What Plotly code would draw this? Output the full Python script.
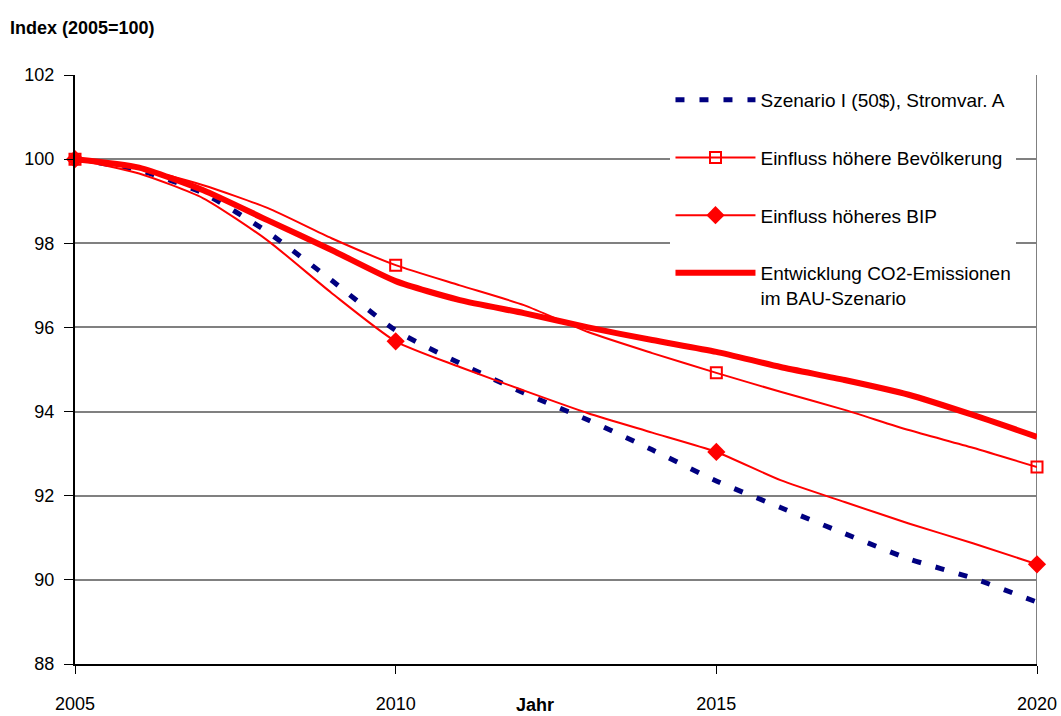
import plotly.graph_objects as go

years = list(range(2005, 2021))
szenario_I = [100, 99.74, 99.19, 98.27, 97.12, 95.93, 95.15, 94.44, 93.8, 93.09, 92.35, 91.72, 91.1, 90.5, 90.04, 89.47]
bip = [100, 99.66, 99.07, 98.07, 96.82, 95.67, 95.06, 94.5, 93.96, 93.5, 93.04, 92.37, 91.85, 91.34, 90.87, 90.37]
bevoelkerung = [100, 99.78, 99.38, 98.84, 98.12, 97.48, 97.0, 96.53, 95.89, 95.39, 94.92, 94.47, 94.04, 93.56, 93.14, 92.68]
bau = [100, 99.8, 99.26, 98.55, 97.84, 97.1, 96.65, 96.34, 96.0, 95.7, 95.42, 95.06, 94.75, 94.4, 93.92, 93.4]
marker_years = [2005, 2010, 2015, 2020]
x_ticks = [2005, 2010, 2015, 2020]
y_ticks = [88, 90, 92, 94, 96, 98, 100, 102]

FONT = "Liberation Sans, Arial, sans-serif"
RED = "#FF0000"
NAVY = "#000080"
SPLINE = dict(shape="spline", smoothing=0.6)

def at_marker_years(values):
    return [v for y, v in zip(years, values) if y in marker_years]

square_marker = dict(symbol="square-open", size=11, color=RED, line=dict(width=2, color=RED))
diamond_marker = dict(symbol="diamond", size=14, color=RED)

fig = go.Figure()
# Szenario I
fig.add_trace(go.Scatter(
    x=years, y=szenario_I, mode="lines", name="Szenario I (50$), Stromvar. A",
    line=dict(color=NAVY, width=5, dash="9px,15px", **SPLINE), legendgroup="a"))
# Bevoelkerung
fig.add_trace(go.Scatter(
    x=years, y=bevoelkerung, mode="lines", showlegend=False,
    line=dict(color=RED, width=2, **SPLINE), legendgroup="b", hoverinfo="skip"))
fig.add_trace(go.Scatter(
    x=marker_years, y=at_marker_years(bevoelkerung), mode="markers", showlegend=False,
    marker=square_marker, legendgroup="b", cliponaxis=False))
fig.add_trace(go.Scatter(
    x=[None], y=[None], mode="lines+markers", name="Einfluss höhere Bevölkerung",
    line=dict(color=RED, width=2), marker=square_marker, legendgroup="b"))
# BIP
fig.add_trace(go.Scatter(
    x=years, y=bip, mode="lines", showlegend=False,
    line=dict(color=RED, width=2, **SPLINE), legendgroup="c", hoverinfo="skip"))
fig.add_trace(go.Scatter(
    x=marker_years, y=at_marker_years(bip), mode="markers", showlegend=False,
    marker=diamond_marker, legendgroup="c", cliponaxis=False))
fig.add_trace(go.Scatter(
    x=[None], y=[None], mode="lines+markers", name="Einfluss höheres BIP",
    line=dict(color=RED, width=2), marker=diamond_marker, legendgroup="c"))
# BAU
fig.add_trace(go.Scatter(
    x=years, y=bau, mode="lines", name="Entwicklung CO2-Emissionen<br>im BAU-Szenario",
    line=dict(color=RED, width=6, **SPLINE), legendgroup="d"))

fig.update_layout(
    width=1061, height=716,
    margin=dict(l=75, r=24, t=75, b=52),
    paper_bgcolor="white", plot_bgcolor="white",
    font=dict(family=FONT, size=18, color="black"),
    title=dict(text="<b>Index (2005=100)</b>", x=0.0094, xref="container", xanchor="left",
               y=1 - 28 / 716, yref="container", yanchor="middle",
               font=dict(family=FONT, size=18, color="black")),
    showlegend=True,
    legend=dict(x=0.619, xanchor="left", y=0.99, yanchor="top",
                bgcolor="white", borderwidth=0, itemwidth=80,
                tracegroupgap=30, valign="top",
                font=dict(family=FONT, size=19, color="black")),
    xaxis=dict(range=[2005, 2020], tickvals=x_ticks, ticktext=[str(t) for t in x_ticks],
               showgrid=False, zeroline=False, showline=True, linecolor="black", linewidth=2,
               ticks="outside", ticklen=8, tickcolor="black", tickwidth=1,
               ticklabelstandoff=14, automargin=False),
    yaxis=dict(range=[88, 102], tickvals=y_ticks, showgrid=True, gridcolor="#808080", gridwidth=2,
               zeroline=False, showline=True, linecolor="black", linewidth=2,
               ticks="outside", ticklen=9, tickcolor="black", tickwidth=1,
               ticklabelstandoff=6, automargin=False),
    annotations=[dict(text="<b>Jahr</b>", x=0.478, xref="paper", y=-0.0696, yref="paper",
                      xanchor="center", yanchor="middle", showarrow=False,
                      font=dict(family=FONT, size=18, color="black"))],
)
fig.add_shape(type="line", xref="x", yref="paper", x0=2020, x1=2020, y0=0, y1=1,
              line=dict(color="#808080", width=2), layer="below")

fig.write_html("out.html", config={"displayModeBar": False},
               post_script="document.body.style.margin='0px';")
